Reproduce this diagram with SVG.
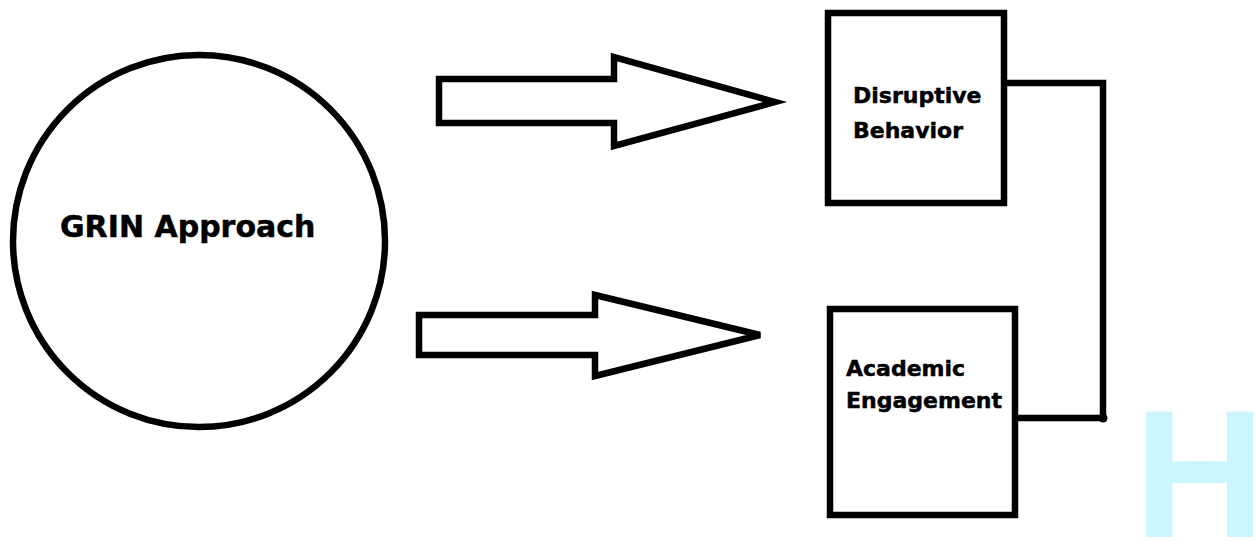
<svg xmlns="http://www.w3.org/2000/svg" width="1256" height="540" viewBox="0 0 1256 540">
<style>
.shape{fill:#ffffff;stroke:#000000;stroke-width:6.5;stroke-linejoin:miter}
.line{fill:none;stroke:#000000;stroke-width:6.5}
.lbl{font-family:"DejaVu Sans",Verdana,sans-serif;font-weight:bold;fill:#000000;stroke:#000000;stroke-width:0.5}
</style>
<rect width="1256" height="540" fill="#ffffff"/>
<g id="wm">
<text x="1134" y="537" font-family="Liberation Sans, Arial, sans-serif" font-weight="bold" font-size="182" fill="#ccf6ff">H</text>
</g>
<g id="grin">
<circle class="shape" cx="199" cy="241" r="186" stroke-width="5"/>
<text class="lbl" x="60" y="237" font-size="30">GRIN Approach</text>
</g>
<g id="arrow1">
<polygon class="shape" points="439,79 614,79 614,57 775,102 614,146 614,123 439,123"/>
</g>
<g id="arrow2">
<polygon class="shape" points="419,315 595,315 595,295 760,335 595,376 595,355 419,355"/>
</g>
<g id="disruptive">
<rect class="shape" x="828" y="13" width="176" height="190"/>
<text class="lbl" x="853" y="103" font-size="22">Disruptive</text>
<text class="lbl" x="853" y="138" font-size="22">Behavior</text>
</g>
<g id="academic">
<rect class="shape" x="830" y="309" width="185" height="206"/>
<text class="lbl" x="846" y="376" font-size="22">Academic</text>
<text class="lbl" x="846" y="408" font-size="22">Engagement</text>
</g>
<g id="connectors">
<polyline class="line" points="1004,83 1103,83 1103,418 1015,418"/>
<circle cx="1103" cy="418" r="4.5" fill="#000000"/>
</g>
</svg>
